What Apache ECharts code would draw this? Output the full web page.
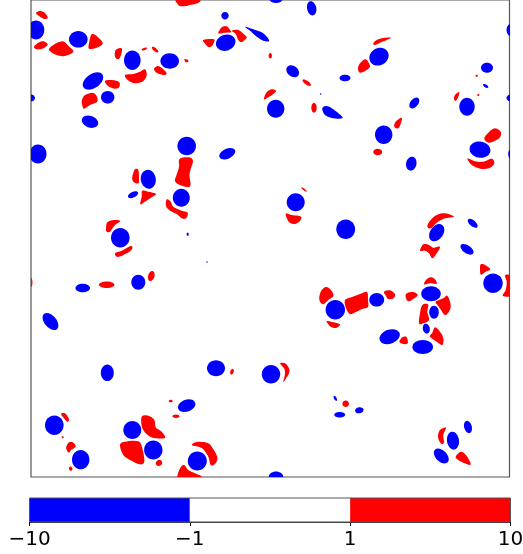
<!DOCTYPE html>
<html>
<head>
<meta charset="utf-8">
<style>html,body{margin:0;padding:0;background:#fff}#c{width:523px;height:554px}</style>
<script src="https://cdn.jsdelivr.net/npm/echarts@6/dist/echarts.min.js"></script>
</head>
<body>
<div id="c"></div>
<script>
// Field regions. Ellipses: [x, y, rx, ry, tilt degrees]
const blueEllipses = [
[36,30,8.3,9.5,0],[78.3,39.3,9.3,8.3,0],[132.3,60.3,8.3,9.7,0],[169.7,61,9.3,7.7,0],[93,81,11.5,7,-35],
[107.7,97.3,6.7,6.3,0],[90,121.7,8.5,5.8,20],[31,98,4,3.5,0],[38,154,8.5,9.5,0],[186.7,146,9.3,9.3,0],
[276,-1,6.5,4,0],[311.7,8.3,4.6,7.2,-12],[225,15.7,3.7,3.7,0],[225.7,42.7,10,8,-20],[292.7,71.3,7,5.3,40],
[345,78,5.5,3.3,0],[320.7,94,0.8,0.8,0],[275.7,108.7,8.7,9,0],[227.3,153.7,8.5,5,-25],
[379,56.7,10,8.5,-30],[487,67.7,6,5,0],[485.7,86,3,1.5,30],[467,106.7,7.7,9,0],[414.3,103,6.3,3.8,-50],
[383.7,134.7,8.7,9.2,0],[411.3,163.7,5.2,7,12],[480,149.7,10.5,8,10],[511.5,30,5,6.5,0],[510,98,3.5,3.3,0],[513,154,4.8,6,0],
[148.3,179.3,7.5,9.5,-10],[133,194.7,5.5,2.8,-25],[181.3,197.7,8.5,9,0],[120.3,237.7,9.3,9.7,0],[187.7,234.3,1,1.7,0],
[82.7,288,7.3,4.3,0],[138.3,282.3,7,7.5,0],[50.5,321.5,10,6,50],
[295.7,202.3,9,9,0],[345.7,229.3,9.4,9.8,0],[207,262,0.7,0.7,0],[335.3,309.7,9.7,9.7,0],
[436.7,232.7,9.5,6.5,-55],[472.7,223.3,6,3,40],[467,249.3,7.5,4,35],[493,283.3,9.7,9.7,0],[376.7,299.7,7.5,6.8,0],
[431,293.7,9.8,7.5,0],[434,312.3,4.8,6.5,0],[426.3,328.7,3.5,5,-10],[389.7,336.7,10.5,7,-20],[422.7,347,10.3,7,0],
[107.3,372.7,6.5,8.3,0],[54.3,425.3,9.3,9.7,0],[132.3,430,9,9,0],[153.3,450,9.2,9.5,0],[80.7,459.7,8.7,9.6,0],
[197.3,461,9.5,9.5,0],[216,368.3,9,8,0],[271,374.3,9.2,9.2,0],[186.7,405.7,9,6,-20],[276,477,7.3,5.5,0],
[335.3,398.3,2.8,1.3,60],[339.7,414.7,5.5,2.8,0],[359.3,410.3,4.3,3,-10],
[453,440.7,6,9,-8],[468,427,3.8,6.3,-15],[441.3,456,9,5.5,45]
];
const redEllipses = [
[270.3,55.7,1.7,2.7,0],[306.7,82.7,5,2,35],[314,107.7,2.7,5,0],[377.7,152,4.5,3.3,0],[476.7,75.7,1.2,1,0],[478.3,95,1,1,0],
[106.7,284.7,7.7,3.3,0],[151.3,276,3.2,5.2,15],[31,282.5,1.5,4.5,0],[345.7,403.7,3.3,3.3,0],[232,371.7,1.7,3,20],
[176,416.3,3.5,1.7,0],[170.7,401,2,1.3,0],[62.7,437.3,1,1,0],[70.7,468.7,1.7,2.2,-20],[159,463,3.3,3,-30]
];
// Irregular regions: outline points [x, y]
const blueOutlines = [
[[245,26.7],[253.3,29.3],[261.7,32.3],[267.3,37.3],[269,41.3],[263.3,40.7],[256.7,36.7],[250,30.7]],
[[322.3,108.3],[326.7,106],[333.3,109.3],[342.7,117.7],[333.3,118.3],[325,115]]
];
const redOutlines = [
[[177,0],[199,0],[198,3],[190,5],[186,6],[180,6],[177,3]],
[[36,13],[40,11],[45,13],[47.7,17.7],[44.3,19],[39,16]],
[[34,46.7],[38.3,42.7],[43.3,41.3],[47.7,44.3],[43.3,48.3],[36.7,49.3]],
[[49,50],[53.3,45],[62.3,41.3],[68.3,45.7],[73.3,51.7],[65,56],[56.7,55]],
[[91.7,34.3],[96.7,36],[102.7,43.3],[96.7,47.7],[89,48.7],[89.3,41.7]],
[[115.7,50],[121.7,48.3],[121,55],[118.3,59.3],[115,56.7]],
[[125,75],[133.3,74],[140,71.7],[145,69.3],[146.7,75],[143.3,81],[135,83.3],[127.7,80]],
[[141.7,49],[146,47.5],[146.7,49],[143,50.5]],
[[152,47],[155,47.5],[158.3,51],[157,52.5],[153,50]],
[[154,69],[158,66],[163,69],[166.7,73.5],[164,75],[157,73]],
[[184.5,59],[188,60],[188,62],[185.5,62]],
[[105,81],[112,80],[119,82],[119.3,87],[115,88.7],[108,86]],
[[82,100],[85,95],[93,93],[97,97],[97,102],[90,105],[84,108.7],[82,104]],
[[179,160],[183,157.5],[190,157.5],[193,161],[191,168],[189.5,175],[190,186.5],[180,185],[175,181],[176.5,175],[179,167]],
[[203.3,40],[214,39.3],[212.7,45],[209,47.3],[205.3,44]],
[[218.3,33.3],[221.7,27.3],[226.7,26.3],[230,30],[231,32.3],[225,32.7]],
[[231.7,30.7],[238.3,30],[244,34.3],[246.7,37.7],[241.7,42],[238.3,40],[235.7,34]],
[[358,68.3],[360,63.3],[365.7,59.3],[370,66],[366.7,70],[360,72.7]],
[[264,99.3],[266,93.3],[271,89.3],[276,90.7],[273.3,94],[268.3,97.3]],
[[373.3,43.3],[376.7,40],[383.3,38],[391,37.7],[386.7,40],[380,42.7],[375,45]],
[[394.3,126.7],[395.7,121.7],[401.7,117.7],[401,122.7],[398.3,128.3]],
[[454,99.3],[455,95],[459.3,92],[458.3,96.7],[456,100.7]],
[[484.3,138.3],[489.3,131.7],[495,128.3],[500.7,131.7],[500,137.3],[495,140.7],[488.3,142.7]],
[[467.7,158.3],[475,161.3],[483.3,161.7],[491.7,158.7],[494.3,163.3],[490,167.7],[481.7,169],[473.3,166],[469.3,162.3]],
[[132.3,176.7],[135,169.3],[138.3,170],[139,178.3],[138.3,183.3],[133.3,181.7]],
[[142.3,190.7],[148.3,191.7],[156,194],[151.7,197.3],[145,201.7],[140.3,204.3],[141.7,196.7]],
[[166.7,199.3],[170.7,201.7],[173.3,206.7],[181.7,210.7],[187.7,212.7],[186,218.3],[181.7,218.3],[176.7,214],[170,210.7],[166,206]],
[[106,228.3],[107.3,222.3],[113.3,220],[120.3,221],[115,225],[110,231.7],[106.7,231.7]],
[[115,253.3],[121.7,250.7],[131,246],[132,249.3],[126.7,253.3],[117.7,257]],
[[301,187.7],[304,188.3],[307,191.7],[304.3,190.7]],
[[285.7,213.7],[291.7,215],[301,216.7],[299.3,221.7],[294,224],[288.7,221.7]],
[[319.3,296.7],[321.7,290],[326.7,287],[331.7,291],[333.3,296],[328.3,300],[323.3,304.3],[320,301.7]],
[[345,300],[352,297],[360,294],[367,292],[368,300],[368,307],[362,309],[356,312],[350,314],[346,308]],
[[326.7,321],[333.3,322.3],[340,324.3],[336.7,327.7],[331.7,327.3],[328.3,324.3]],
[[427.3,226.7],[430,220.7],[436.7,215],[445,213.3],[454,216.7],[445,218.3],[436.7,222.7],[431,228.3]],
[[420,250.7],[423.3,244.3],[429,245],[433.3,247.7],[440,246.7],[436.7,253.3],[432.3,258.3],[429,253.3],[425,250.7]],
[[480.7,264.3],[485,265],[490.3,269.3],[485.7,271.7],[481,274.7],[480,270]],
[[505,275.3],[511,276.7],[511,295],[502.7,295.7],[505.7,290],[506.7,281.7]],
[[384,291.7],[390,290.3],[395,294.3],[393.3,298.3],[388.3,299],[386,296]],
[[406.7,293.3],[413.3,292],[417.7,295],[413.3,299],[408.3,301.3],[405.7,297.3]],
[[424,284.3],[426.7,279.3],[431,277.3],[435,279.3],[436.7,283.7],[430,283.3]],
[[435.7,301.7],[443.3,298.3],[447.3,295.7],[450.7,305],[449,311.7],[445,315],[441,310],[438.3,306]],
[[421.7,306],[425,303.7],[428.3,305],[427.3,311.7],[429,320],[423.3,323.3],[419,323.3],[420,313.3]],
[[435,327.3],[440,331.7],[443.3,338.3],[442.3,345],[436.7,341.7],[430,336.7],[432.3,332.7]],
[[399.3,341.7],[402.7,337],[406.7,337.3],[407.7,343.3],[403.3,344]],
[[280,363.3],[285,363.3],[289,368.3],[289,373.3],[286,378.3],[283.3,382],[285,373.3],[284,368.3]],
[[191.7,445],[196.7,442],[206.7,442.7],[211.7,446.7],[217.3,457.3],[215,464],[210.7,465],[208.3,456.7],[203.3,449.3],[198.3,446.7]],
[[177,479],[177.3,476],[180,468.3],[184,465],[188.3,470],[195,473.3],[201,476],[201,479]],
[[61,414],[65,413.3],[69,419],[67.3,421.7],[64,418.3]],
[[66.3,446.7],[69,442.3],[73.3,442.7],[75.7,446.7],[71,450],[69,452.7],[66.7,450]],
[[141.7,416.7],[148.3,415.7],[154.3,420],[155.7,427.3],[161.7,431.7],[165,437.7],[156.7,438.3],[149,436],[142.3,428.3]],
[[120,445],[125,441.7],[138.3,441.3],[142.3,448.3],[144.3,461.7],[140,464.3],[130,460],[123.3,455]],
[[438,436.7],[440,430],[446,427.7],[443.3,435],[444,442.7],[440.7,443.3]],
[[455.7,456.7],[461,451.7],[466.7,456],[470.7,464.7],[463.3,462.7],[458.3,460]]
];
// Colour bar
const colorbarTicks = ['\u221210', '\u22121', '1', '10'];
const colorbarSegments = [1, 1, 1];
const colorbarColors = ['#0000ff', '#ffffff', '#ff0000'];

// Closed Catmull-Rom curve through the outline's on-screen points
function roundOutline(pts) {
  const out = [], n = pts.length, steps = 6;
  for (let i = 0; i < n; i++) {
    const p0 = pts[(i + n - 1) % n], p1 = pts[i], p2 = pts[(i + 1) % n], p3 = pts[(i + 2) % n];
    for (let k = 0; k < steps; k++) {
      const t = k / steps, t2 = t * t, t3 = t2 * t;
      out.push([0, 1].map(d => 0.5 * (2 * p1[d] + (p2[d] - p0[d]) * t +
        (2 * p0[d] - 5 * p1[d] + 4 * p2[d] - p3[d]) * t2 +
        (3 * p1[d] - p0[d] - 3 * p2[d] + p3[d]) * t3)));
    }
  }
  return out;
}
function ellipseSeries(list, color) {
  return {
    type: 'custom', xAxisIndex: 0, yAxisIndex: 0, clip: true, silent: true,
    data: list,
    encode: { x: 0, y: 1 },
    renderItem(params, api) {
      const c = api.coord([api.value(0), api.value(1)]);
      const s = api.size([api.value(2), api.value(3)]);
      return {
        type: 'ellipse', x: c[0], y: c[1], rotation: -api.value(4) * Math.PI / 180,
        shape: { cx: 0, cy: 0, rx: s[0], ry: s[1] },
        style: { fill: color }
      };
    }
  };
}
function outlineSeries(list, color) {
  return {
    type: 'custom', xAxisIndex: 0, yAxisIndex: 0, clip: true, silent: true,
    data: list.map(p => p[0]),
    encode: { x: 0, y: 1 },
    renderItem(params, api) {
      return {
        type: 'polygon',
        shape: { points: roundOutline(list[params.dataIndex].map(p => api.coord(p))) },
        style: { fill: color }
      };
    }
  };
}
const chart = echarts.init(document.getElementById('c'), null, { renderer: 'canvas' });
chart.setOption({
  animation: false,
  backgroundColor: '#ffffff',
  grid: [
    { left: 31, top: 0, width: 478.5, height: 477, show: true, borderColor: '#555555', borderWidth: 1.2, backgroundColor: '#ffffff', outerBoundsMode: 'none' },
    { left: 29.5, top: 498, width: 481, height: 24, outerBoundsMode: 'none' }
  ],
  xAxis: [
    { gridIndex: 0, type: 'value', min: 31, max: 509.5, show: false },
    { gridIndex: 1, type: 'value', min: 0, max: 3, interval: 1,
      splitLine: { show: false },
      axisLine: { show: true, onZero: false, lineStyle: { color: '#333333', width: 1 } },
      axisTick: { show: true, length: 4, lineStyle: { color: '#000000', width: 1 } },
      axisLabel: { show: true, margin: 8, fontFamily: 'DejaVu Sans', fontSize: 20, color: '#000000',
        showMinLabel: true, showMaxLabel: true, hideOverlap: false,
        formatter: v => colorbarTicks[Math.round(v)] } }
  ],
  yAxis: [
    { gridIndex: 0, type: 'value', min: 0, max: 477, inverse: true, show: false },
    { gridIndex: 1, type: 'category', data: ['scale'], show: false }
  ],
  series: [
    ...colorbarSegments.map((v, i) => ({
      type: 'bar', xAxisIndex: 1, yAxisIndex: 1, stack: 'bar', barWidth: '100%', silent: true,
      data: [v], itemStyle: { color: colorbarColors[i] }
    })),
    ellipseSeries(redEllipses, '#ff0000'),
    outlineSeries(redOutlines, '#ff0000'),
    ellipseSeries(blueEllipses, '#0000ff'),
    outlineSeries(blueOutlines, '#0000ff')
  ],
  graphic: [
    { type: 'rect', z: 50, silent: true, shape: { x: 29.5, y: 498, width: 481, height: 24 },
      style: { fill: 'none', stroke: '#555555', lineWidth: 1 } }
  ]
});
</script>
</body>
</html>
